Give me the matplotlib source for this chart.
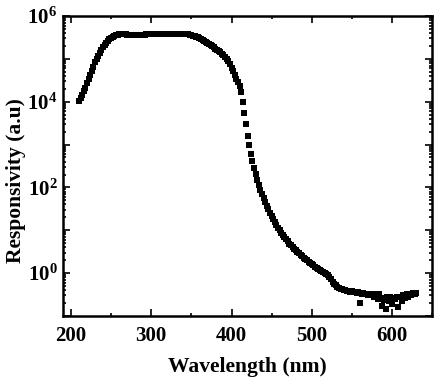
import numpy as np
import matplotlib
matplotlib.use('Agg')
import matplotlib.pyplot as plt
from matplotlib.ticker import LogLocator, FuncFormatter, MultipleLocator, NullFormatter

plt.rcParams['font.family'] = 'Liberation Serif'
plt.rcParams['font.weight'] = 'bold'
plt.rcParams['mathtext.fontset'] = 'custom'
plt.rcParams['mathtext.rm'] = 'Liberation Serif:bold'
plt.rcParams['mathtext.bf'] = 'Liberation Serif:bold'

# wavelength (nm), 2 nm step
wavelength = np.arange(210, 632, 2)

# log10 of responsivity
log10_resp = [
    4.02, 4.08, 4.16, 4.25, 4.33, 4.43, 4.52, 4.62, 4.72, 4.82,   # 210-228
    4.92, 5.00, 5.07, 5.14, 5.21, 5.27, 5.32, 5.37, 5.42, 5.46,   # 230-248
    5.49, 5.52, 5.54, 5.55, 5.56, 5.57, 5.57, 5.57, 5.57, 5.57,   # 250-268
    5.56, 5.56, 5.56, 5.55, 5.55, 5.55, 5.55, 5.55, 5.55, 5.55,   # 270-288
    5.56, 5.56, 5.57, 5.57, 5.58, 5.58, 5.58, 5.58, 5.59, 5.59,   # 290-308
    5.59, 5.59, 5.59, 5.59, 5.59, 5.59, 5.59, 5.59, 5.59, 5.59,   # 310-328
    5.58, 5.59, 5.59, 5.59, 5.59, 5.58, 5.58, 5.58, 5.57, 5.56,   # 330-348
    5.55, 5.54, 5.53, 5.52, 5.50, 5.48, 5.46, 5.44, 5.42, 5.40,   # 350-368
    5.38, 5.35, 5.33, 5.30, 5.27, 5.24, 5.21, 5.18, 5.15, 5.12,   # 370-388
    5.09, 5.05, 5.00, 4.94, 4.87, 4.79, 4.72, 4.63, 4.54, 4.45,   # 390-408
    4.36, 4.22, 4.00, 3.73, 3.47, 3.20, 2.98, 2.79, 2.62, 2.46,   # 410-428
    2.31, 2.17, 2.05, 1.94, 1.84, 1.75, 1.66, 1.57, 1.49, 1.41,   # 430-448
    1.33, 1.26, 1.19, 1.12, 1.06, 1.00, 0.94, 0.89, 0.84, 0.79,   # 450-468
    0.74, 0.69, 0.65, 0.61, 0.57, 0.53, 0.50, 0.46, 0.43, 0.40,   # 470-488
    0.36, 0.33, 0.30, 0.27, 0.24, 0.21, 0.18, 0.15, 0.12, 0.09,   # 490-508
    0.07, 0.05, 0.03, 0.01, -0.02, -0.05, -0.09, -0.14, -0.20, -0.25,   # 510-528
    -0.29, -0.32, -0.36, -0.38, -0.38, -0.40, -0.40, -0.42, -0.41, -0.44,   # 530-548
    -0.43, -0.45, -0.44, -0.46, -0.45, -0.70, -0.48, -0.47, -0.50, -0.49,   # 550-568
    -0.51, -0.50, -0.52, -0.49, -0.55, -0.53, -0.60, -0.50, -0.58, -0.78,   # 570-588
    -0.62, -0.85, -0.55, -0.66, -0.56, -0.72, -0.58, -0.60, -0.55, -0.80,   # 590-608
    -0.57, -0.65, -0.52, -0.58, -0.50, -0.55, -0.48, -0.52, -0.47, -0.49,   # 610-628
    -0.46,                                                              # 630
]
responsivity = 10 ** np.array(log10_resp)

fig = plt.figure(figsize=(4.37, 3.82), dpi=100)
ax = fig.add_axes([0.144, 0.173, 0.845, 0.785])

ax.plot(wavelength, responsivity, 's', color='black', markersize=4.2,
        markeredgewidth=0)

ax.set_yscale('log')
ax.set_xlim(190, 650)
ax.set_ylim(1e-1, 1e6)

# x ticks
ax.xaxis.set_major_locator(MultipleLocator(100))
ax.xaxis.set_minor_locator(MultipleLocator(50))

# y ticks: major each decade, label only even decades
ax.yaxis.set_major_locator(LogLocator(base=10, numticks=20))
ax.yaxis.set_minor_locator(LogLocator(base=10, subs=np.arange(2, 10), numticks=20))
ax.yaxis.set_minor_formatter(NullFormatter())

def dec_fmt(v, pos):
    e = int(round(np.log10(v)))
    if e % 2 == 0 and e >= 0:
        return r'$\mathbf{10^{%d}}$' % e
    return ''

ax.yaxis.set_major_formatter(FuncFormatter(dec_fmt))

ax.tick_params(which='both', direction='in', top=True, right=True, width=1.2)
ax.tick_params(which='major', length=5, labelsize=15)
ax.tick_params(axis='x', which='major', pad=7)
ax.tick_params(axis='y', which='major', pad=4)
ax.tick_params(which='minor', length=2.5)

for sp in ax.spines.values():
    sp.set_linewidth(1.8)

ax.set_xlabel('Wavelength (nm)', fontsize=15.5, fontweight='bold', labelpad=8)
ax.set_ylabel('Responsivity (a.u)', fontsize=15.5, fontweight='bold', labelpad=1)
ax.yaxis.label.set_y(0.45)

fig.savefig('out.png', dpi=100)
